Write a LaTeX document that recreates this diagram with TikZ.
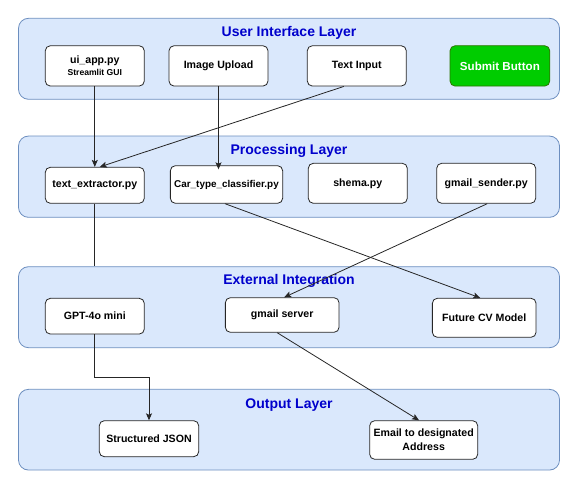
\documentclass[tikz,border=0pt]{standalone}
\usepackage{fontspec}
\setmainfont{Liberation Sans}
\usetikzlibrary{arrows.meta,calc}
\definecolor{layerfill}{HTML}{DAE8FC}
\definecolor{layerdraw}{HTML}{6C8EBF}
\definecolor{titleblue}{HTML}{0000CC}
\definecolor{btngreen}{HTML}{00CC00}
\definecolor{btndraw}{HTML}{2D7600}
\begin{document}
\begin{tikzpicture}[x=1pt,y=-1pt,
 layer/.style={draw=layerdraw, fill=layerfill, rounded corners=10pt, minimum width=541pt, inner sep=0, line width=0.8pt},
 ltitle/.style={text=titleblue, font=\fontsize{14}{16}\selectfont\bfseries, inner sep=0, anchor=base},
 box/.style={draw=black!85, fill=white, rounded corners=5pt, inner sep=0, align=center, font=\fontsize{10.6}{14}\selectfont\bfseries, line width=0.8pt},
 btn/.style={box, draw=btndraw, fill=btngreen, text=white, font=\fontsize{11.6}{14}\selectfont\bfseries},
 conn/.style={draw=black!85, line width=0.8pt},
 arr/.style={conn, -{Stealth[length=7pt,width=6pt,inset=1.5pt]}}
]
\useasboundingbox (0,0) rectangle (579,489);

% layers
\node[layer, minimum height=81pt] (uil) at (289,58.8) {};
\node[layer, minimum height=81.3pt] (pl) at (289,176.7) {};
\node[layer, minimum height=81pt] (el) at (289,307.2) {};
\node[layer, minimum height=80.7pt] (ol) at (289,429.7) {};

\node[ltitle] (t1) at (289,36.7) {User Interface Layer};
\node[ltitle] (t2) at (289,155) {Processing Layer};
\node[ltitle] (t3) at (289,285) {External Integration};
\node[ltitle] (t4) at (289,408) {Output Layer};

% UI row
\node[box, minimum width=99pt, minimum height=40.3pt] (ui) at (94.8,65.9)
  {ui\_app.py\\[-1.5pt]{\fontsize{8.6}{10}\selectfont Streamlit GUI}};
\node[box, minimum width=99pt, minimum height=40.3pt] (iu) at (218.5,65.9) {Image Upload};
\node[box, minimum width=99pt, minimum height=40.3pt] (ti) at (356.8,65.9) {Text Input};
\node[btn, minimum width=99.7pt, minimum height=40.3pt] (sb) at (499.9,65.9) {Submit Button};

% Processing row
\node[box, minimum width=99pt, minimum height=36pt] (te) at (94.8,185.3) {text\_extractor.py};
\node[box, minimum width=112.3pt, minimum height=37.6pt, font=\fontsize{9.9}{12}\selectfont\bfseries] (cl) at (226.5,184.5) {Car\_type\_classifier.py};
\node[box, minimum width=99pt, minimum height=40pt] (sh) at (357.8,183.3) {shema.py};
\node[box, minimum width=99pt, minimum height=40pt] (gs) at (486.2,183.3) {gmail\_sender.py};

% External row
\node[box, minimum width=99pt, minimum height=35.7pt] (gpt) at (94.8,316.2) {GPT-4o mini};
\node[box, minimum width=113.7pt, minimum height=34.6pt] (gsv) at (282.2,315) {gmail server};
\node[box, minimum width=103.7pt, minimum height=39pt] (fcv) at (484.2,317.8) {Future CV Model};

% Output row
\node[box, minimum width=99.4pt, minimum height=36pt] (json) at (149,438.7) {Structured JSON};
\node[box, minimum width=108pt, minimum height=38.6pt] (em) at (423.7,440) {Email to designated\\Address};

% connectors
\draw[arr] (ui.south) -- (te.north);
\draw[arr] (iu.south) -- ($(iu.south |- cl.north)+(0,4)$);
\draw[arr] ([xshift=-13pt]ti.south) -- ([xshift=5pt]te.north);
\draw[conn] (te.south) -- (te.south |- el.north);
\draw[arr] (gpt.south) -- ($(gpt.south)+(0,43.3)$) -| (json.north);
\draw[arr] ([xshift=-1.5pt]cl.south) -- ([xshift=-4pt]fcv.north);
\draw[arr] ([xshift=1pt]gs.south) -- ([xshift=2pt]gsv.north);
\draw[arr] ([xshift=-5pt]gsv.south) -- ([xshift=-4.7pt]em.north);
\end{tikzpicture}
\end{document}
